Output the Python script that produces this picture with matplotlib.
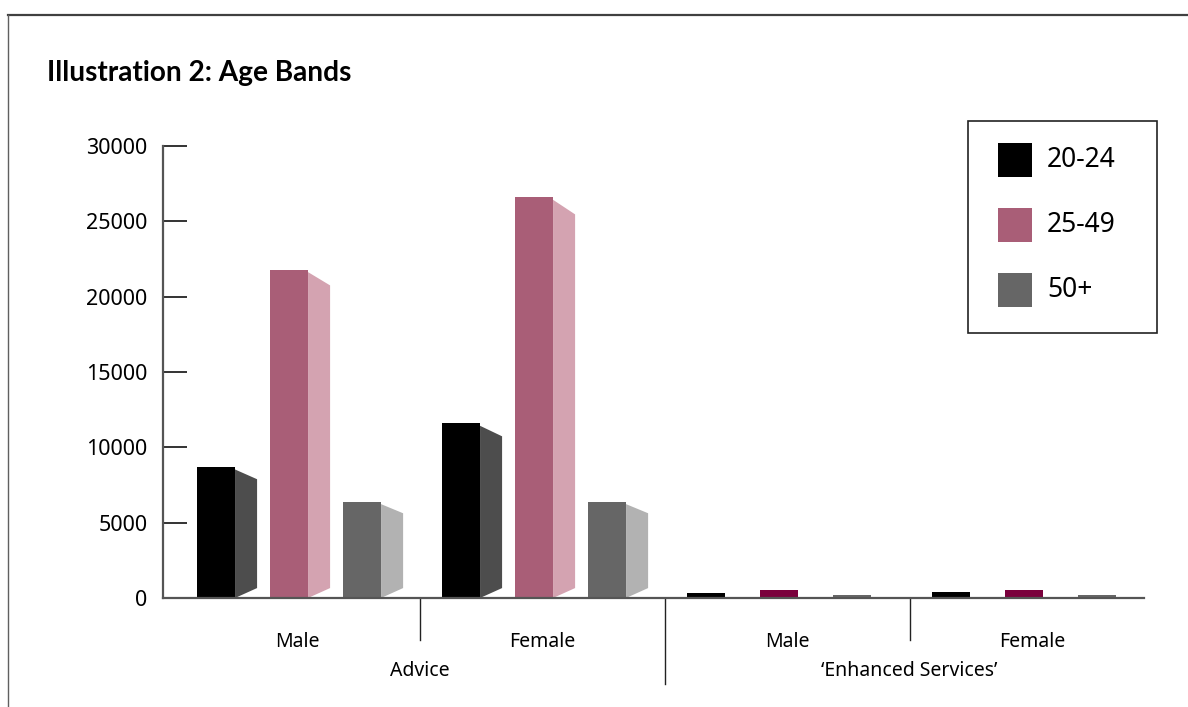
import matplotlib
matplotlib.use("Agg")
import matplotlib.pyplot as plt
from matplotlib.patches import Polygon, Rectangle
from matplotlib.lines import Line2D

# --- data -----------------------------------------------------------------
categories = ["Male", "Female", "Male", "Female"]
groups = ["Advice", "\u2018Enhanced Services\u2019"]
age_bands = ["20-24", "25-49", "50+"]
band_20_24 = [8700, 11600, 300, 430]
band_25_49 = [21800, 26600, 560, 560]
band_50_plus = [6400, 6400, 230, 230]
y_ticks = [0, 5000, 10000, 15000, 20000, 25000, 30000]

# --- style ----------------------------------------------------------------
front_colors = ["#000000", "#a95e77", "#666666"]
side_colors = ["#4d4d4d", "#d4a3b1", "#b2b2b2"]
flat_colors = ["#000000", "#7a003c", "#666666"]
legend_colors = ["#000000", "#a95e77", "#666666"]
shaded_category = [True, True, False, False]

FONT = "Noto Sans"
TITLE_FONT = "Lato"
W, H = 1188, 707
fig = plt.figure(figsize=(W / 100, H / 100), dpi=100)
fig.patch.set_facecolor("white")

def fx(px):
    return px / W

def fy(py):
    return 1 - py / H

ax = fig.add_axes([fx(163), fy(598), fx(1144) - fx(163), fy(146) - fy(598)])
ax.set_xlim(-0.547, 3.457)
ax.set_ylim(0, 30000)

offsets = [-0.408, -0.110, 0.188]
bar_w = 0.155
side_w = 0.090
series = [band_20_24, band_25_49, band_50_plus]

for s, values in enumerate(series):
    for c, v in enumerate(values):
        x0 = c + offsets[s]
        if shaded_category[c]:
            ax.bar(x0, v, width=bar_w, align="edge", color=front_colors[s],
                   linewidth=0, zorder=3)
            top_left = v - 170
            top_right = v - (660 + 0.018 * v)
            side = Polygon([(x0 + bar_w, 0), (x0 + bar_w, top_left),
                            (x0 + bar_w + side_w, top_right),
                            (x0 + bar_w + side_w, 660)],
                           closed=True, facecolor=side_colors[s],
                           edgecolor="none", zorder=2)
            ax.add_patch(side)
        else:
            ax.bar(x0, v, width=bar_w, align="edge", color=flat_colors[s],
                   linewidth=0, zorder=3)

# axes styling
for name in ["top", "right"]:
    ax.spines[name].set_visible(False)
for name in ["left", "bottom"]:
    ax.spines[name].set_color("#555555")
    ax.spines[name].set_linewidth(1.6)
    ax.spines[name].set_zorder(4)
ax.set_yticks(y_ticks)
ax.set_yticklabels([str(t) for t in y_ticks], fontsize=15.5, family=FONT)
ax.tick_params(axis="y", direction="in", length=17, width=1.4, color="#333333",
               pad=11)
ax.set_xticks([])

# category and group labels under the axis
for c, name in enumerate(categories):
    ax.text(c, -0.097, name, transform=ax.get_xaxis_transform(),
            ha="center", va="center", fontsize=14, family=FONT)
for g, name in enumerate(groups):
    ax.text(2 * g + 0.5, -0.162, name, transform=ax.get_xaxis_transform(),
            ha="center", va="center", fontsize=14, family=FONT)
for xd, depth in [(0.5, 0.093), (1.5, 0.19), (2.5, 0.093)]:
    ax.add_line(Line2D([xd, xd], [0, -depth], transform=ax.get_xaxis_transform(),
                       color="#222222", linewidth=1.0, clip_on=False))

# title
fig.text(fx(47), fy(73), "Illustration 2: Age Bands", ha="left", va="center",
         fontsize=20.2, fontweight="bold", family=TITLE_FONT)

# legend box
fig.patches.append(Rectangle((fx(968), fy(333)), fx(1157) - fx(968),
                             fy(121) - fy(333), transform=fig.transFigure,
                             facecolor="white", edgecolor="#222222",
                             linewidth=1.2, zorder=5))
for i, (label, col) in enumerate(zip(age_bands, legend_colors)):
    top = 143 + 65 * i
    fig.patches.append(Rectangle((fx(998), fy(top + 34)), fx(1032) - fx(998),
                                 fy(top) - fy(top + 34),
                                 transform=fig.transFigure, facecolor=col,
                                 edgecolor="none", zorder=6))
    fig.text(fx(1047), fy(top + 17), label, ha="left", va="center",
             fontsize=19, family=FONT, zorder=7)

# outer frame
fig.add_artist(Line2D([fx(8), 1], [fy(15), fy(15)], color="#404040",
                      linewidth=1.6, transform=fig.transFigure))
fig.add_artist(Line2D([fx(8), fx(8)], [fy(15), 0], color="#606060",
                      linewidth=1.0, transform=fig.transFigure))

fig.savefig("out.png", dpi=100)
